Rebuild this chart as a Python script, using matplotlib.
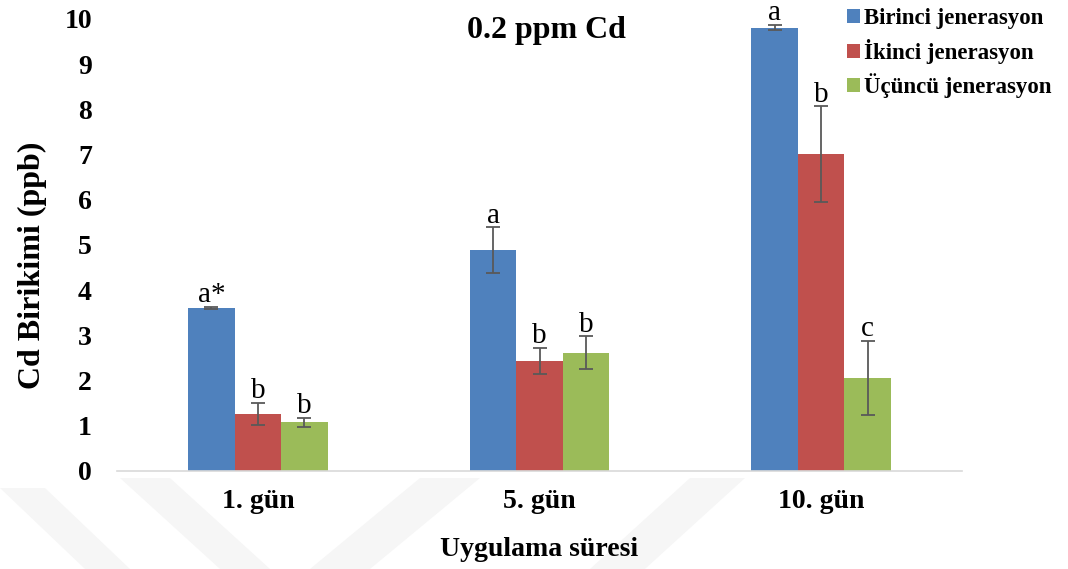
import numpy as np
import matplotlib.pyplot as plt
from matplotlib.patches import Polygon

days = ['1. gün', '5. gün', '10. gün']
series = ['Birinci jenerasyon', 'İkinci jenerasyon', 'Üçüncü jenerasyon']
colors = ['#4F81BD', '#C0504D', '#9BBB59']

birinci = [3.61, 4.89, 9.81]
ikinci = [1.26, 2.44, 7.01]
ucuncu = [1.08, 2.62, 2.06]

birinci_err = [0.02, 0.50, 0.06]
ikinci_err = [0.25, 0.29, 1.06]
ucuncu_err = [0.10, 0.36, 0.82]

birinci_lbl = ['a*', 'a', 'a']
ikinci_lbl = ['b', 'b', 'b']
ucuncu_lbl = ['b', 'b', 'c']

plt.rcParams['font.family'] = ['Liberation Serif', 'DejaVu Serif']

W, H = 1068, 569
fig = plt.figure(figsize=(W / 100, H / 100), dpi=100)

# faint watermark bands at the bottom (pixel corners)
bands = [
    [(0, 488), (45, 488), (130, 569), (85, 569)],
    [(120, 478), (170, 478), (270, 569), (220, 569)],
    [(420, 478), (480, 478), (370, 569), (310, 569)],
    [(690, 478), (745, 478), (645, 569), (590, 569)],
]
for b in bands:
    pts = [(px / W, 1 - py / H) for px, py in b]
    fig.patches.append(Polygon(pts, closed=True, transform=fig.transFigure,
                               facecolor='#f6f6f6', edgecolor='none', zorder=0))

ax = fig.add_axes([117 / W, 1 - 471 / H, 845 / W, 452 / H])
ax.set_zorder(2)
ax.patch.set_alpha(0)

x = np.arange(len(days))
w = 0.165
vals = [birinci, ikinci, ucuncu]
errs = [birinci_err, ikinci_err, ucuncu_err]
lbls = [birinci_lbl, ikinci_lbl, ucuncu_lbl]

for i in range(3):
    pos = x + (i - 1) * w
    ax.bar(pos, vals[i], w, color=colors[i], label=series[i], zorder=2)
    ax.errorbar(pos, vals[i], yerr=errs[i], fmt='none', ecolor='#595959',
                elinewidth=1.3, capsize=5, capthick=1.3, zorder=3)
    for p, v, e, t in zip(pos, vals[i], errs[i], lbls[i]):
        ax.annotate(t, (p, v + e), xytext=(0, -1), textcoords='offset points',
                    ha='center', va='bottom', fontsize=21)

ax.set_xlim(-0.5, 2.5)
ax.set_ylim(0, 10)
ax.set_yticks(range(0, 11))
ax.set_xticks(x)
ax.set_xticklabels(days, fontsize=20, fontweight='bold')
for lab in ax.get_yticklabels():
    lab.set_fontsize(20)
    lab.set_fontweight('bold')
ax.tick_params(axis='y', length=0, pad=18)
ax.tick_params(axis='x', length=0, pad=13)
for s in ['top', 'right', 'left']:
    ax.spines[s].set_visible(False)
ax.spines['bottom'].set_color('#d9d9d9')
ax.spines['bottom'].set_linewidth(1.2)

fig.text(546 / W, 1 - 38 / H, '0.2 ppm Cd', ha='center', va='baseline',
         fontsize=23, fontweight='bold', zorder=5)
fig.text(32 / W, 1 - 265 / H, 'Cd Birikimi (ppb)', ha='center', va='center',
         rotation=90, fontsize=23, fontweight='bold', zorder=5)
fig.text(539 / W, 1 - 556 / H, 'Uygulama süresi', ha='center', va='baseline',
         fontsize=20, fontweight='bold', zorder=5)

leg = fig.legend(loc='upper left', bbox_to_anchor=(845 / W, 1 - 6 / H),
                 frameon=False, prop={'weight': 'bold', 'size': 16.5},
                 handlelength=0.55, handleheight=0.55, handletextpad=0.2,
                 labelspacing=0.42, borderaxespad=0, borderpad=0.1)
leg.set_zorder(5)

fig.savefig('out.png', dpi=100)
